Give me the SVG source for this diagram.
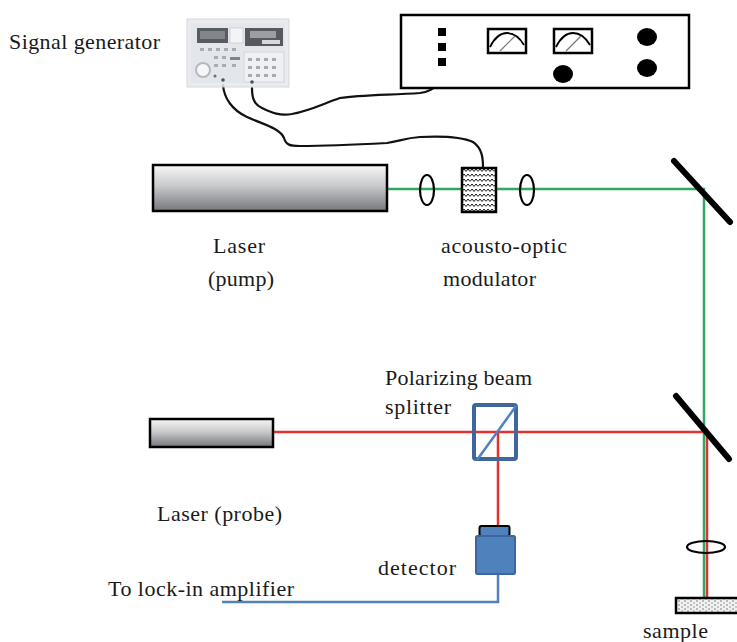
<svg xmlns="http://www.w3.org/2000/svg" width="737" height="642" viewBox="0 0 737 642">
  <style>
    .lbl { font-family: "Liberation Serif", "Times New Roman", serif; font-size: 22px; fill: #1a1a1a; }
    .beam-g { stroke: #2fa862; stroke-width: 2.5; fill: none; }
    .beam-r { stroke: #e5302e; stroke-width: 2.5; fill: none; }
    .cable { stroke: #111; stroke-width: 2.2; fill: none; stroke-linecap: round; stroke-linejoin: round; }
    .lens { fill: none; stroke: #000; stroke-width: 2.2; }
    .mirror { stroke: #000; stroke-width: 6; stroke-linecap: round; }
    .laser { fill: url(#laserGrad); stroke: #000; stroke-width: 2.5; }
    .ink { fill: #000; }
  </style>
  <defs>
    <linearGradient id="laserGrad" x1="0" y1="0" x2="0" y2="1">
      <stop offset="0" stop-color="#f7f7f8"/>
      <stop offset="0.45" stop-color="#c9cacc"/>
      <stop offset="1" stop-color="#76777b"/>
    </linearGradient>
    <pattern id="waves" width="8" height="5" patternUnits="userSpaceOnUse" x="462" y="168">
      <rect width="8" height="5" fill="#fff"/>
      <path d="M0 3.5 L2 1 L4 3.5 L6 1 L8 3.5" fill="none" stroke="#000" stroke-width="0.9"/>
    </pattern>
    <pattern id="grain" width="6" height="4" patternUnits="userSpaceOnUse">
      <rect width="6" height="4" fill="#f2f2f2"/>
      <circle cx="1" cy="1" r="0.7" fill="#555"/>
      <circle cx="4" cy="3" r="0.7" fill="#777"/>
    </pattern>
  </defs>

  <!-- optical paths and wiring -->
  <g id="connectors">
    <!-- pump beam -->
    <path class="beam-g" d="M387 189 H704 V598"/>
    <!-- probe beam -->
    <path class="beam-r" d="M273 432 H707 V598"/>
    <path class="beam-r" d="M498 432 V527"/>
    <!-- detector output -->
    <path d="M222 602 H498 V574" fill="none" stroke="#4f81bd" stroke-width="2.5"/>
    <!-- signal generator to lock-in -->
    <path class="cable" d="M252 88 C252 96 253 104 262 108 C272 113 280 116 292 114 C312 110 322 104 340 98 C360 95 390 95 420 93 C436 91 441 82 442 67"/>
    <!-- signal generator to modulator -->
    <path class="cable" d="M223 85 C224 98 232 110 247 117 C262 124 280 128 284 138 C286 145 290 146 300 146 C320 146 350 145 387 143 C400 141 405 138 420 137 C440 136 460 136 473 142 C482 148 483 158 483 167"/>
  </g>

  <g id="signal-generator" opacity="0.85">
    <rect x="187" y="19" width="102" height="68" fill="#e6e8ec" stroke="#cfd2d6" stroke-width="1"/>
    <rect x="191" y="23" width="94" height="60" fill="#dfe2e7"/>
    <rect x="197" y="28" width="31" height="15" fill="#3c3f44"/>
    <rect x="200" y="31" width="25" height="8" fill="#6d7178"/>
    <rect x="230" y="28" width="13" height="15" fill="#f2f3f5" stroke="#bfc3c8" stroke-width="0.8"/>
    <rect x="245" y="28" width="38" height="18" fill="#3a3d42"/>
    <rect x="250" y="31" width="26" height="7" fill="#8a8e95"/>
    <rect x="262" y="40" width="18" height="4" fill="#cfd2d6"/>
    <rect x="244" y="52" width="40" height="30" fill="#eceef1" stroke="#c9ccd1" stroke-width="0.8"/>
    <g fill="#9a9ea5">
      <rect x="200" y="48" width="4" height="3"/><rect x="208" y="48" width="4" height="3"/><rect x="216" y="48" width="4" height="3"/><rect x="224" y="48" width="4" height="3"/><rect x="232" y="48" width="4" height="3"/>
      <rect x="214" y="56" width="4" height="3"/><rect x="222" y="56" width="4" height="3"/><rect x="230" y="57" width="10" height="3" fill="#6b6f75"/>
      <rect x="214" y="64" width="4" height="3"/><rect x="222" y="64" width="4" height="3"/><rect x="232" y="64" width="4" height="3"/>
      <rect x="248" y="58" width="4" height="3"/><rect x="256" y="58" width="4" height="3"/><rect x="264" y="58" width="4" height="3"/><rect x="272" y="58" width="4" height="3"/>
      <rect x="248" y="66" width="4" height="3"/><rect x="256" y="66" width="4" height="3"/><rect x="264" y="66" width="4" height="3"/><rect x="272" y="66" width="4" height="3"/>
      <rect x="248" y="74" width="4" height="3"/><rect x="256" y="74" width="4" height="3"/><rect x="264" y="74" width="4" height="3"/><rect x="272" y="74" width="4" height="3"/>
    </g>
    <circle cx="203" cy="70" r="7" fill="#f4f5f7" stroke="#a9adb3" stroke-width="2"/>
    <circle cx="215" cy="76" r="1.5" fill="#555"/>
    <circle cx="223" cy="80" r="1.8" fill="#333"/>
    <circle cx="252" cy="82" r="1.8" fill="#333"/>
  </g>
  <text class="lbl" x="9" y="49" textLength="151">Signal generator</text>

  <g id="lock-in-amplifier">
    <rect x="401" y="15" width="288" height="73" fill="#fff" stroke="#000" stroke-width="2.5"/>
    <rect class="ink" x="438" y="28" width="8" height="8"/>
    <rect class="ink" x="438" y="43" width="8" height="8"/>
    <rect class="ink" x="438" y="58" width="8" height="8"/>
    <rect x="488" y="29" width="38" height="24" fill="#fff" stroke="#000" stroke-width="2.5"/>
    <path d="M490 47 Q497 33 507 33 Q517 33 524 45" fill="none" stroke="#000" stroke-width="1.8"/>
    <path d="M500 51 L515 36" stroke="#777" stroke-width="1.2"/>
    <rect x="554" y="29" width="38" height="24" fill="#fff" stroke="#000" stroke-width="2.5"/>
    <path d="M556 47 Q563 33 573 33 Q583 33 590 45" fill="none" stroke="#000" stroke-width="1.8"/>
    <path d="M566 51 L581 36" stroke="#777" stroke-width="1.2"/>
    <ellipse class="ink" cx="563" cy="74" rx="10" ry="9"/>
    <ellipse class="ink" cx="647" cy="37" rx="10" ry="9"/>
    <ellipse class="ink" cx="647" cy="68" rx="10" ry="9"/>
  </g>

  <g id="pump-laser">
    <rect class="laser" x="153" y="165" width="234" height="46"/>
    <text class="lbl" x="213" y="253" textLength="52">Laser</text>
    <text class="lbl" x="208" y="286" textLength="66">(pump)</text>
  </g>

  <g id="lens-1"><ellipse class="lens" cx="427" cy="190" rx="7" ry="15"/></g>

  <g id="modulator">
    <rect x="462" y="168" width="34" height="44" fill="url(#waves)" stroke="#000" stroke-width="2.5"/>
    <text class="lbl" x="441" y="253" textLength="126">acousto-optic</text>
    <text class="lbl" x="443" y="286" textLength="93">modulator</text>
  </g>

  <g id="lens-2"><ellipse class="lens" cx="527" cy="190" rx="7" ry="15"/></g>

  <g id="mirror-1"><line class="mirror" x1="674" y1="161" x2="730" y2="222"/></g>

  <g id="mirror-2"><line class="mirror" x1="676" y1="396" x2="729" y2="459"/></g>

  <g id="probe-laser">
    <rect class="laser" x="150" y="419" width="123" height="28"/>
    <text class="lbl" x="157" y="521" textLength="125">Laser (probe)</text>
  </g>

  <g id="beam-splitter">
    <rect x="474" y="405" width="42" height="54" rx="2" fill="none" stroke="#41669b" stroke-width="4"/>
    <line x1="477" y1="460" x2="516" y2="406" stroke="#4f81bd" stroke-width="2.5"/>
    <text class="lbl" x="385" y="385" textLength="147">Polarizing beam</text>
    <text class="lbl" x="385" y="414" textLength="66">splitter</text>
  </g>

  <g id="detector">
    <rect x="479.5" y="526" width="30" height="10" rx="2" fill="#4f81bd" stroke="#000" stroke-width="2"/>
    <rect x="476" y="536" width="39" height="38" rx="1.5" fill="#4f81bd" stroke="#3d66a0" stroke-width="2"/>
    <text class="lbl" x="378" y="575" textLength="78">detector</text>
  </g>

  <g id="lens-3"><ellipse class="lens" cx="706" cy="547" rx="19" ry="6"/></g>

  <g id="sample">
    <rect x="676" y="598" width="64" height="15" fill="url(#grain)" stroke="#000" stroke-width="2.5"/>
    <text class="lbl" x="643" y="638" textLength="65">sample</text>
  </g>

  <text class="lbl" x="108" y="596" textLength="186">To lock-in amplifier</text>
</svg>
